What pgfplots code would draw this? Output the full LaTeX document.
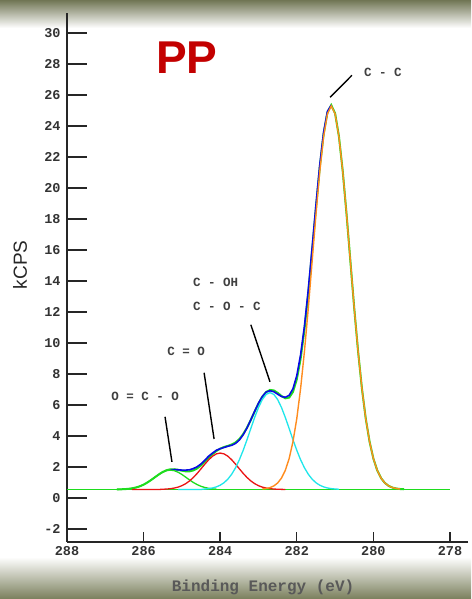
\documentclass[border=0pt]{standalone}
\usepackage{pgfplots}
\pgfplotsset{compat=1.18}
\usepackage{fontspec}
\setmainfont{Liberation Sans}
\newfontfamily\monofont{Liberation Mono}
\definecolor{olivebg}{RGB}{112,117,84}
\definecolor{olivebot}{RGB}{122,127,92}
\definecolor{envgreen}{RGB}{30,220,30}
\definecolor{datablue}{RGB}{10,10,230}
\definecolor{cred}{RGB}{235,20,20}
\definecolor{ccyan}{RGB}{30,230,235}
\definecolor{corange}{RGB}{255,140,30}
\definecolor{ppred}{RGB}{195,0,0}
\begin{document}
\begin{tikzpicture}[x=1pt,y=1pt]
\useasboundingbox (0,0) rectangle (471,599);
\fill[white] (0,0) rectangle (471,599);
\shade[top color=olivebg, bottom color=white] (0,571) rectangle (471,599);
\shade[top color=white, bottom color=olivebot] (0,0) rectangle (471,42);
\begin{axis}[
  at={(67pt,57pt)}, anchor=south west,
  scale only axis, width=401pt, height=529pt,
  x dir=reverse, xmin=277.53, xmax=288, ymin=-2.84, ymax=31.3,
  axis lines=left,
  axis line style={-, line width=1.4pt, black!85},
  xtick={278,280,...,288}, ytick={-2,0,...,30},
  tick align=inside,
  xtick style={/pgfplots/major tick length=10pt, line width=1.4pt, black!85},
  ytick style={/pgfplots/major tick length=20pt, line width=1.4pt, black!85},
  /pgf/number format/assume math mode=true,
  /pgf/number format/1000 sep={},
  ticklabel style={font=\monofont\bfseries\fontsize{13.5}{15}\selectfont, text=black!80},
  xticklabel style={yshift=-1pt},
  yticklabel style={xshift=-3pt},
  xlabel={Binding Energy (eV)},
  xlabel style={at={(axis description cs:0.489,-0.085)}, anchor=center, font=\monofont\bfseries\fontsize{16}{18}\selectfont, text=black!65},
  ylabel={kCPS},
  ylabel style={at={(axis description cs:-0.117,0.524)}, anchor=center, font=\fontsize{19}{21}\selectfont, text=black!85},
  title={PP},
  title style={at={(axis description cs:0.299,0.905)}, anchor=center, font=\bfseries\fontsize{46}{48}\selectfont, text=ppred},
  clip=false,
]
% baseline
\addplot[envgreen, line width=1.3pt] coordinates {(288,0.55) (278,0.55)};
% total fit envelope
\addplot[envgreen, line width=2pt] coordinates {
(286.7,0.555)(286.6,0.56)(286.5,0.571)(286.4,0.59)(286.3,0.624)(286.2,0.676)(286.1,0.754)(286.0,0.862)
(285.9,1.001)(285.8,1.167)(285.7,1.347)(285.6,1.526)(285.5,1.68)(285.4,1.793)(285.3,1.851)(285.2,1.855)
(285.1,1.818)(285.0,1.763)(284.9,1.721)(284.8,1.719)(284.7,1.78)(284.6,1.91)(284.5,2.105)(284.4,2.342)
(284.3,2.596)(284.2,2.834)(284.1,3.035)(284.0,3.185)(283.9,3.288)(283.8,3.363)(283.7,3.451)(283.6,3.584)
(283.5,3.80)(283.4,4.12)(283.3,4.538)(283.2,5.04)(283.1,5.581)(283.0,6.10)(282.9,6.535)(282.8,6.836)
(282.7,6.971)(282.6,6.942)(282.5,6.786)(282.4,6.582)(282.3,6.435)(282.2,6.478)(282.1,6.846)(282.0,7.657)
(281.9,8.991)(281.8,10.868)(281.7,13.224)(281.6,15.927)(281.5,18.726)(281.4,21.345)(281.3,23.487)(281.2,24.888)
(281.1,25.355)(281.0,24.82)(280.9,23.336)(280.8,21.078)(280.7,18.29)(280.6,15.26)(280.5,12.24)(280.4,9.47)
(280.3,7.077)(280.2,5.131)(280.1,3.634)(280.0,2.542)(279.9,1.783)(279.8,1.283)(279.7,0.968)(279.6,0.778)
(279.5,0.67)(279.4,0.61)(279.3,0.579)(279.2,0.564)};
% measured data
\addplot[datablue, line width=1.6pt] coordinates {
(285.3,1.83)(285.2,1.83)(285.1,1.82)(285.0,1.80)(284.9,1.80)(284.8,1.82)(284.7,1.90)(284.6,2.02)
(284.5,2.20)(284.4,2.45)(284.3,2.70)(284.2,2.90)(284.1,3.08)(284.0,3.18)(283.9,3.26)(283.8,3.34)
(283.7,3.40)(283.6,3.52)(283.5,3.74)(283.4,4.08)(283.3,4.52)(283.2,5.05)(283.1,5.60)(283.0,6.12)
(282.9,6.55)(282.8,6.84)(282.7,6.92)(282.6,6.86)(282.5,6.70)(282.4,6.55)(282.3,6.50)(282.2,6.62)
(282.1,7.05)(282.0,7.90)(281.9,9.25)(281.8,11.10)(281.7,13.45)(281.6,16.15)(281.5,18.90)(281.4,21.50)
(281.3,23.60)(281.2,24.95)(281.1,25.35)};
% O=C-O component
\addplot[envgreen, line width=1.3pt] coordinates {
(286.7,0.555)(286.6,0.56)(286.5,0.571)(286.4,0.59)(286.3,0.624)(286.2,0.676)(286.1,0.754)(286.0,0.862)
(285.9,1.001)(285.8,1.165)(285.7,1.344)(285.6,1.519)(285.5,1.666)(285.4,1.765)(285.3,1.80)(285.2,1.765)
(285.1,1.666)(285.0,1.519)(284.9,1.344)(284.8,1.165)(284.7,1.001)(284.6,0.862)(284.5,0.754)(284.4,0.676)
(284.3,0.624)(284.2,0.59)(284.1,0.571)};
% C=O component
\addplot[cred, line width=1.3pt] coordinates {
(286.3,0.55)(285.6,0.55)(285.5,0.564)(285.4,0.578)(285.3,0.601)(285.2,0.64)(285.1,0.702)(285.0,0.794)
(284.9,0.926)(284.8,1.102)(284.7,1.325)(284.6,1.59)(284.5,1.885)(284.4,2.186)(284.3,2.467)(284.2,2.696)
(284.1,2.847)(284.0,2.90)(283.9,2.847)(283.8,2.696)(283.7,2.467)(283.6,2.186)(283.5,1.885)(283.4,1.59)
(283.3,1.325)(283.2,1.102)(283.1,0.926)(283.0,0.794)(282.9,0.702)(282.8,0.64)(282.7,0.601)(282.6,0.578)
(282.5,0.564)(282.4,0.557)(282.3,0.55)};
% C-OH / C-O-C component
\addplot[ccyan, line width=1.3pt] coordinates {
(285.1,0.55)(284.5,0.55)(284.4,0.58)(284.3,0.605)(284.2,0.648)(284.1,0.717)(284.0,0.825)(283.9,0.986)
(283.8,1.217)(283.7,1.534)(283.6,1.948)(283.5,2.464)(283.4,3.076)(283.3,3.762)(283.2,4.486)(283.1,5.199)
(283.0,5.842)(282.9,6.354)(282.8,6.686)(282.7,6.80)(282.6,6.686)(282.5,6.354)(282.4,5.842)(282.3,5.199)
(282.2,4.486)(282.1,3.762)(282.0,3.076)(281.9,2.464)(281.8,1.948)(281.7,1.534)(281.6,1.217)(281.5,0.986)
(281.4,0.825)(281.3,0.717)(281.2,0.648)(281.1,0.605)(281.0,0.58)(280.9,0.566)};
% C-C component
\addplot[corange, line width=1.4pt] coordinates {
(282.9,0.579)(282.8,0.61)(282.7,0.67)(282.6,0.778)(282.5,0.968)(282.4,1.283)(282.3,1.783)(282.2,2.542)
(282.1,3.634)(282.0,5.131)(281.9,7.077)(281.8,9.47)(281.7,12.24)(281.6,15.26)(281.5,18.29)(281.4,21.07)
(281.3,23.32)(281.2,24.79)(281.1,25.30)(281.0,24.79)(280.9,23.32)(280.8,21.07)(280.7,18.29)(280.6,15.26)
(280.5,12.24)(280.4,9.47)(280.3,7.077)(280.2,5.131)(280.1,3.634)(280.0,2.542)(279.9,1.783)(279.8,1.283)
(279.7,0.968)(279.6,0.778)(279.5,0.67)(279.4,0.61)(279.3,0.579)};
% leader lines and labels
\draw[black, line width=1.4pt] (axis cs:281.13,25.86) -- (axis cs:280.56,27.28);
\draw[black, line width=1.4pt] (axis cs:283.20,11.18) -- (axis cs:282.70,7.5);
\draw[black, line width=1.4pt] (axis cs:284.42,8.08) -- (axis cs:284.16,3.81);
\draw[black, line width=1.4pt] (axis cs:285.44,5.24) -- (axis cs:285.26,2.33);
\begin{scope}[every node/.style={font=\monofont\bfseries\fontsize{12.5}{14}\selectfont, text=black!75, inner sep=0pt}]
\node at (axis cs:279.75,27.47) {C - C};
\node[anchor=west] at (axis cs:284.71,13.9) {C - OH};
\node[anchor=west] at (axis cs:284.71,12.35) {C - O - C};
\node at (axis cs:284.89,9.44) {C = O};
\node at (axis cs:285.96,6.53) {O = C - O};
\end{scope}
\end{axis}
\end{tikzpicture}
\end{document}
